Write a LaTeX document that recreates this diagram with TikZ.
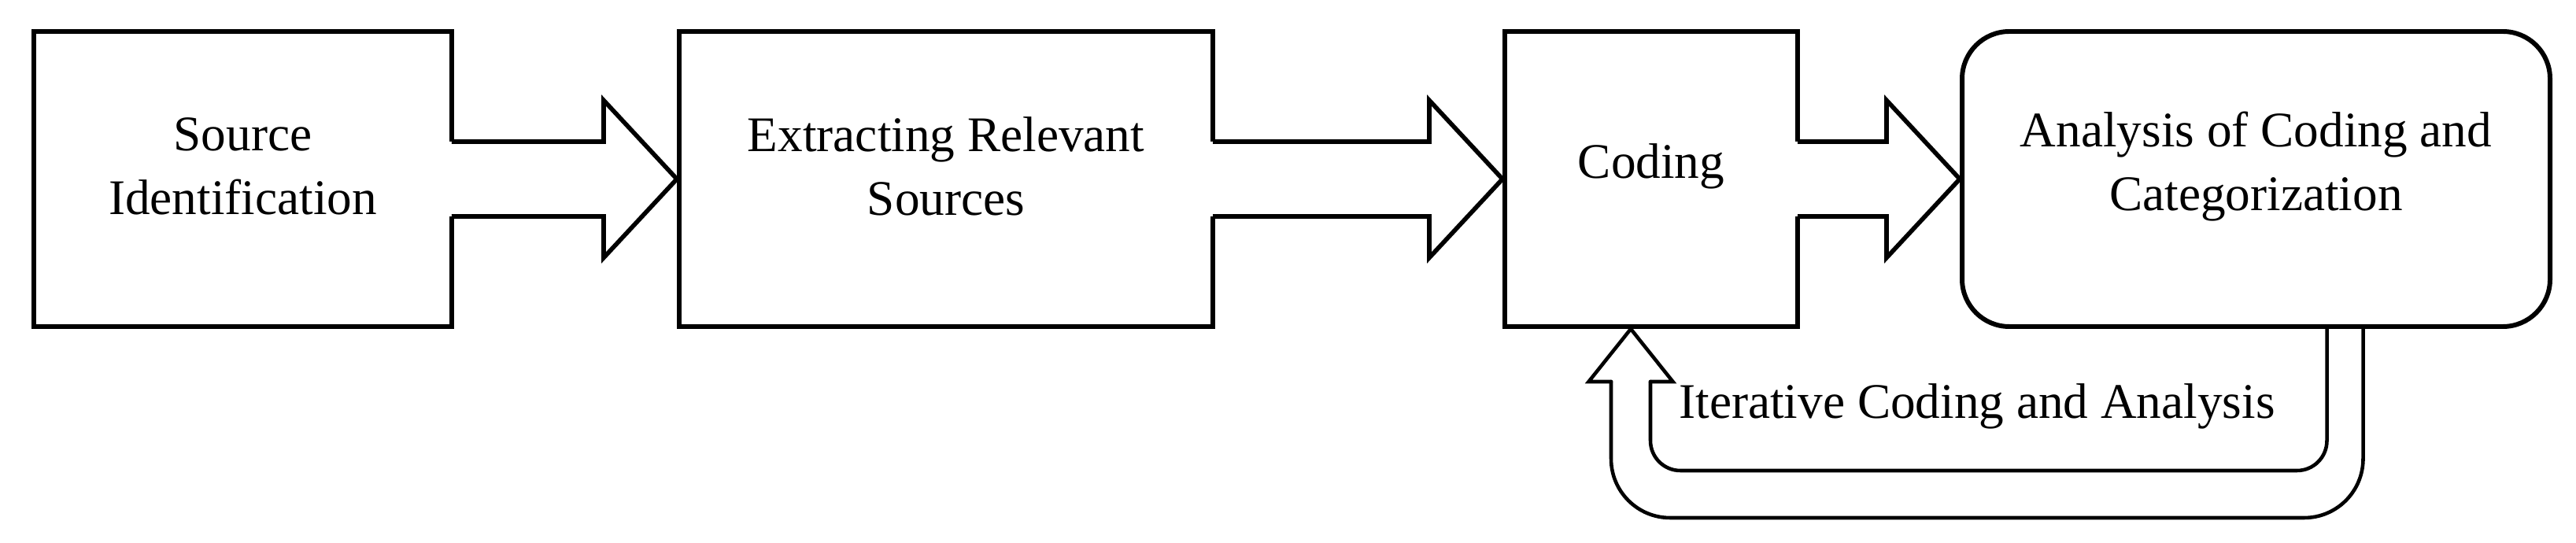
\documentclass[tikz,border=0pt]{standalone}
\usepackage{fontspec}
\setmainfont{Liberation Serif}
\usetikzlibrary{calc}
\tikzset{
  stepbox/.style={draw=black, line width=1.7pt, fill=white, minimum height=3.75cm, inner sep=0pt},
  roundbox/.style={stepbox, rounded corners=0.6cm},
  boxtext/.style={align=center, font=\fontsize{18}{23}\selectfont, inner sep=0pt},
  arrline/.style={draw=black, line width=1.6pt, line join=miter},
  fbline/.style={draw=black, line width=1.3pt, line cap=round, line join=miter},
}
\newcommand{\blkarrow}[2]{%
  \fill[white] ($(#1.east)+(-0.12,0.475)$) -- ($(#2.west)+(-0.93,0.475)$) -- ($(#2.west)+(-0.93,1.0)$) -- (#2.west)
     -- ($(#2.west)+(-0.93,-1.0)$) -- ($(#2.west)+(-0.93,-0.475)$) -- ($(#1.east)+(-0.12,-0.475)$) -- cycle;
  \draw[arrline] ($(#1.east)+(-0.03,0.475)$) -- ($(#2.west)+(-0.93,0.475)$) -- ($(#2.west)+(-0.93,1.0)$) -- (#2.west)
     -- ($(#2.west)+(-0.93,-1.0)$) -- ($(#2.west)+(-0.93,-0.475)$) -- ($(#1.east)+(-0.03,-0.475)$);
}
\begin{document}
\begin{tikzpicture}
\useasboundingbox (0,0) rectangle (32.73,6.9);
\fill[white] (0,0) rectangle (32.73,6.9);

\node[stepbox, minimum width=5.31cm] (b1) at (3.085,4.625) {};
\node[stepbox, minimum width=6.78cm] (b2) at (12.02,4.625) {};
\node[stepbox, minimum width=3.72cm] (b3) at (20.98,4.625) {};
\node[roundbox, minimum width=7.47cm] (b4) at (28.665,4.625) {};

\node[boxtext] (t1) at ($(b1.center)+(0,0.16)$) {Source\\Identification};
\node[boxtext] (t2) at ($(b2.center)+(0,0.16)$) {Extracting Relevant\\Sources};
\node[boxtext] (t3) at ($(b3.center)+(0,0.16)$) {Coding};
\node[boxtext] (t4) at ($(b4.center)+(0,0.16)$) {Analysis of Coding and\\Categorization};

\blkarrow{b1}{b2}
\blkarrow{b2}{b3}
\blkarrow{b3}{b4}

% feedback arrow
\coordinate (T) at ($(b3.south)+(-0.26,0)$);
\coordinate (R) at ($(b4.south)+(1.13,0)$);
\coordinate (ri) at ($(R)+(-0.23,0)$);
\coordinate (ro) at ($(R)+(0.23,0)$);
\coordinate (li) at ($(T)+(0.25,-0.67)$);
\coordinate (lo) at ($(T)+(-0.25,-0.67)$);
\coordinate (hr) at ($(T)+(0.535,-0.67)$);
\coordinate (hl) at ($(T)+(-0.535,-0.67)$);
\coordinate (yi) at ($(T)+(0,-1.80)$);
\coordinate (yo) at ($(T)+(0,-2.40)$);

\draw[fbline, rounded corners=0.38cm] (ri) -- (ri |- yi) -- (li |- yi) -- (li);
\draw[fbline] (li) -- (hr) -- (T) -- (hl) -- (lo);
\draw[fbline, rounded corners=0.75cm] (lo) -- (lo |- yo) -- (ro |- yo) -- (ro);

\node[boxtext] (lbl) at ($(T)+(4.40,-0.98)$) {Iterative Coding and Analysis};
\end{tikzpicture}
\end{document}
